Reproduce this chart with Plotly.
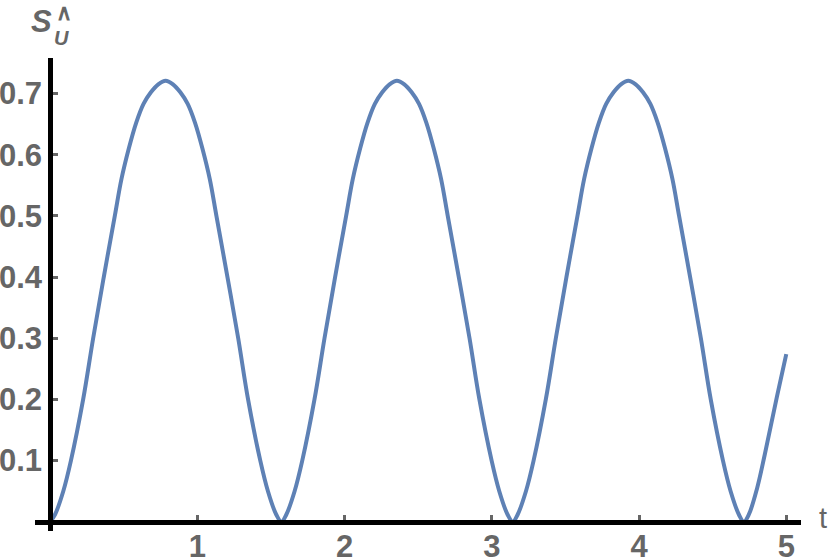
"""Mathematica-style plot of S_U^ against t."""

import plotly.graph_objects as go

# values
t_vals = [
    0.0, 0.034, 0.09, 0.142, 0.225, 0.293, 0.365, 0.44, 0.485, 0.535, 0.585, 0.635,
    0.685, 0.735, 0.785, 0.835, 0.885, 0.935, 0.985, 1.035, 1.085, 1.13, 1.205, 1.278,
    1.345, 1.428, 1.48, 1.536,
    1.571, 1.605, 1.661, 1.713, 1.796, 1.864, 1.936, 2.011, 2.056, 2.106, 2.156, 2.206,
    2.256, 2.306, 2.356, 2.406, 2.456, 2.506, 2.556, 2.606, 2.656, 2.701, 2.776, 2.849,
    2.916, 2.999, 3.051, 3.107,
    3.142, 3.176, 3.232, 3.284, 3.367, 3.435, 3.507, 3.582, 3.627, 3.677, 3.727, 3.777,
    3.827, 3.877, 3.927, 3.977, 4.027, 4.077, 4.127, 4.177, 4.227, 4.272, 4.347, 4.420,
    4.487, 4.570, 4.622, 4.678,
    4.712, 4.746, 4.802, 4.854, 4.937, 5.0,
]
s_vals = [
    0.0, 0.012, 0.05, 0.1, 0.2, 0.3, 0.4, 0.5, 0.56, 0.61, 0.652, 0.683,
    0.702, 0.715, 0.721, 0.715, 0.702, 0.683, 0.652, 0.61, 0.56, 0.5, 0.4, 0.3,
    0.2, 0.1, 0.05, 0.012,
    0.0, 0.012, 0.05, 0.1, 0.2, 0.3, 0.4, 0.5, 0.56, 0.61, 0.652, 0.683,
    0.702, 0.715, 0.721, 0.715, 0.702, 0.683, 0.652, 0.61, 0.56, 0.5, 0.4, 0.3,
    0.2, 0.1, 0.05, 0.012,
    0.0, 0.012, 0.05, 0.1, 0.2, 0.3, 0.4, 0.5, 0.56, 0.61, 0.652, 0.683,
    0.702, 0.715, 0.721, 0.715, 0.702, 0.683, 0.652, 0.61, 0.56, 0.5, 0.4, 0.3,
    0.2, 0.1, 0.05, 0.012,
    0.0, 0.012, 0.055, 0.11, 0.205, 0.274,
]
x_ticks = [1, 2, 3, 4, 5]
y_ticks = [0.1, 0.2, 0.3, 0.4, 0.5, 0.6, 0.7]
y_tick_text = ["0.1", "0.2", "0.3", "0.4", "0.5", "0.6", "0.7"]

X_RANGE = [-0.102, 5.1]
Y_RANGE = [-0.015, 0.758]
GREY = "#666666"
FONT = "Liberation Sans"

fig = go.Figure()
fig.add_trace(
    go.Scatter(
        x=t_vals,
        y=s_vals,
        mode="lines",
        line=dict(color="#5E81B5", width=4, shape="spline", smoothing=1.0),
        hoverinfo="skip",
    )
)

# axes cross at the origin, as in Mathematica
x_pos = (0 - Y_RANGE[0]) / (Y_RANGE[1] - Y_RANGE[0])
y_pos = (0 - X_RANGE[0]) / (X_RANGE[1] - X_RANGE[0])

axis_style = dict(
    anchor="free",
    showline=True,
    linecolor="black",
    linewidth=4.5,
    showgrid=False,
    zeroline=False,
    ticks="inside",
    ticklen=5,
    tickwidth=3,
    tickcolor=GREY,
    tickfont=dict(family=FONT, size=31, color=GREY, weight="bold"),
    automargin=False,
)
fig.update_xaxes(
    range=X_RANGE, position=x_pos, tickvals=x_ticks, ticklabelstandoff=-5,
    **axis_style,
)
fig.update_yaxes(
    range=Y_RANGE, position=y_pos, tickvals=y_ticks, ticktext=y_tick_text, **axis_style
)

label_font = dict(family=FONT, color=GREY)
fig.add_annotation(
    text="<b><i>S</i></b>", x=0.0065, y=1.078, xref="paper", yref="paper",
    xshift=-11, yshift=19, showarrow=False, font=dict(size=31, **label_font),
)
fig.add_annotation(
    text="<b><i>U</i></b>", x=0.034, y=1.052, xref="paper", yref="paper",
    xshift=-9, yshift=8, showarrow=False, font=dict(size=20, **label_font),
)
fig.add_annotation(
    text="<b>∧</b>", x=0.036, y=1.1, xref="paper", yref="paper", xshift=-9,
    yshift=13, showarrow=False, font=dict(size=22, **label_font),
)
fig.add_annotation(
    text="t", x=1.033, y=-0.01, xref="paper", yref="paper", xshift=3,
    showarrow=False, font=dict(size=29, **label_font),
)

fig.update_layout(
    width=830,
    height=560,
    margin=dict(l=35, r=29, t=58, b=29, autoexpand=False),
    plot_bgcolor="white",
    paper_bgcolor="white",
    showlegend=False,
)

# drop the default 8px body margin so the figure fills the window
fig.write_html(
    "out.html",
    config={"displayModeBar": False},
    post_script="document.body.style.margin = '0';",
)
